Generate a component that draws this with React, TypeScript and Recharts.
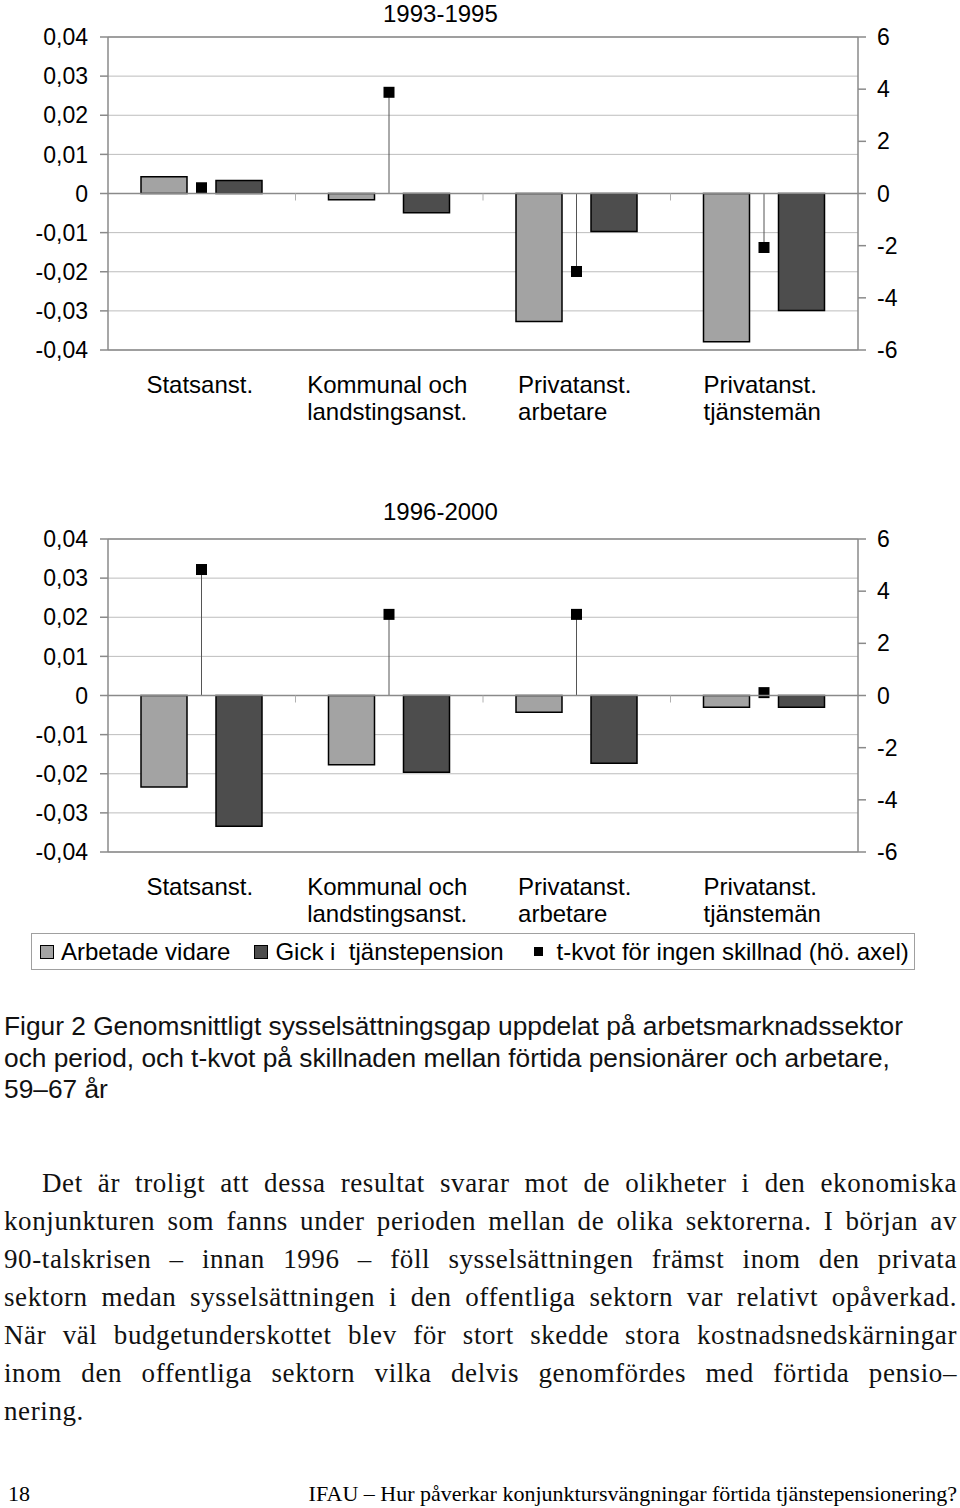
import React from "react";
import { ComposedChart, Bar, XAxis, YAxis, CartesianGrid, ReferenceLine } from "recharts";

// categories and values
const sectors = ["Statsanst.", "Kommunal och\nlandstingsanst.", "Privatanst.\narbetare", "Privatanst.\ntjänstemän"];
const worked9395 = [0.0043, -0.0016, -0.0327, -0.0379];
const retired9395 = [0.0033, -0.0049, -0.0097, -0.0299];
const tRatio9395 = [0.22, 3.88, -2.99, -2.07];
const worked9600 = [-0.0234, -0.0177, -0.0043, -0.003];
const retired9600 = [-0.0334, -0.0196, -0.0173, -0.003];
const tRatio9600 = [4.83, 3.11, 3.11, 0.11];
const leftTicks = [-0.04, -0.03, -0.02, -0.01, 0, 0.01, 0.02, 0.03, 0.04];
const rightTicks = [-6, -4, -2, 0, 2, 4, 6];
const legendNames = ["Arbetade vidare", "Gick i  tjänstepension", "t-kvot för ingen skillnad (hö. axel)"];

const captionLines = [
  "Figur 2 Genomsnittligt sysselsättningsgap uppdelat på arbetsmarknadssektor",
  "och period, och t-kvot på skillnaden mellan förtida pensionärer och arbetare,",
  "59–67 år",
];
const bodyLines = [
  "Det är troligt att dessa resultat svarar mot de olikheter i den ekonomiska",
  "konjunkturen som fanns under perioden mellan de olika sektorerna. I början av",
  "90-talskrisen – innan 1996 – föll sysselsättningen främst inom den privata",
  "sektorn medan sysselsättningen i den offentliga sektorn var relativt opåverkad.",
  "När väl budgetunderskottet blev för stort skedde stora kostnadsnedskärningar",
  "inom den offentliga sektorn vilka delvis genomfördes med förtida pensio–",
  "nering.",
];

const SANS = "'Liberation Sans', Arial, sans-serif";
const FS = 24;
const TICK_FS = 23;
const LIGHT = "#a3a3a3";
const DARK = "#4d4d4d";

let ctx: CanvasRenderingContext2D | null = null;
function textWidth(s: string) {
  if (!ctx) ctx = document.createElement("canvas").getContext("2d");
  if (!ctx) return s.length * FS * 0.5;
  ctx.font = `${FS}px 'Liberation Sans'`;
  return ctx.measureText(s).width;
}

const fmtLeft = (v: number) => (v === 0 ? "0" : v.toFixed(2).replace(".", ","));

const SectorTick = (props: any) => {
  const { x, y, payload } = props;
  const lines = String(payload.value).split("\n");
  const w = Math.max(...lines.map(textWidth));
  const x0 = x - w / 2 - 2;
  return (
    <text x={x0} y={y} fontSize={FS} fontFamily={SANS} fill="#000">
      {lines.map((l, i) => (
        <tspan key={i} x={x0} dy={i === 0 ? 43 : 27}>
          {l}
        </tspan>
      ))}
    </text>
  );
};

const TMarker = (props: any) => {
  const { x, y, width, height } = props;
  if (x == null || y == null) return null;
  const cx = x + width / 2;
  return (
    <g>
      <line x1={cx} x2={cx} y1={y} y2={y + height} stroke="#555" strokeWidth={1} />
      <rect x={cx - 5.5} y={y - 5.5} width={11} height={11} fill="#000" />
    </g>
  );
};

const ZeroAxis = (props: any) => {
  const { x1, x2, y1 } = props;
  const step = (x2 - x1) / sectors.length;
  return (
    <g>
      <line x1={x1} x2={x2} y1={y1} y2={y1} stroke="#8a8a8a" strokeWidth={1.5} />
      {sectors.slice(1).map((_, i) => (
        <line key={i} x1={x1 + step * (i + 1)} x2={x1 + step * (i + 1)} y1={y1} y2={y1 + 7} stroke="#b0b0b0" />
      ))}
    </g>
  );
};

function PeriodChart({ worked, retired, tRatio }: { worked: number[]; retired: number[]; tRatio: number[] }) {
  const data = sectors.map((s, i) => ({ sector: s, worked: worked[i], retired: retired[i], t: tRatio[i] }));
  return (
    <ComposedChart width={960} height={440} data={data} barGap={9} margin={{ top: 37, right: 0, bottom: 0, left: 0 }}>
      <CartesianGrid vertical={false} stroke="#bdbdbd" yAxisId="left" />
      <XAxis dataKey="sector" interval={0} height={90} axisLine={false} tickLine={false} tickSize={0} tickMargin={0} tick={<SectorTick />} />
      <YAxis
        yAxisId="left"
        width={108}
        domain={[-0.04, 0.04]}
        ticks={leftTicks}
        tickFormatter={fmtLeft}
        stroke="#8a8a8a"
        strokeWidth={1.5}
        tickSize={8}
        tickMargin={12}
        tick={{ fill: "#000", fontSize: TICK_FS, fontFamily: SANS }}
      />
      <YAxis
        yAxisId="right"
        orientation="right"
        width={102}
        domain={[-6, 6]}
        ticks={rightTicks}
        stroke="#8a8a8a"
        strokeWidth={1.5}
        tickSize={8}
        tickMargin={11}
        tick={{ fill: "#000", fontSize: TICK_FS, fontFamily: SANS }}
      />
      <ReferenceLine yAxisId="left" y={0.04} stroke="#8a8a8a" strokeWidth={1.5} />
      <ReferenceLine yAxisId="left" y={-0.04} stroke="#8a8a8a" strokeWidth={1.5} />
      <ReferenceLine yAxisId="left" y={0} shape={<ZeroAxis />} />
      <Bar yAxisId="left" dataKey="worked" barSize={46} fill={LIGHT} stroke="#000" strokeWidth={1.5} isAnimationActive={false} />
      <Bar yAxisId="right" dataKey="t" barSize={11} shape={<TMarker />} isAnimationActive={false} />
      <Bar yAxisId="left" dataKey="retired" barSize={46} fill={DARK} stroke="#000" strokeWidth={1.5} isAnimationActive={false} />
    </ComposedChart>
  );
}

const abs = (top: number, left = 0): React.CSSProperties => ({ position: "absolute", top, left });

function LegendSwatch({ color, size, gap }: { color: string; size: number; gap: number }) {
  return (
    <span
      style={{
        display: "inline-block",
        width: size,
        height: size,
        background: color,
        border: color === "#000" ? "none" : "1.5px solid #000",
        marginRight: gap,
        flex: "none",
      }}
    />
  );
}

const titleStyle: React.CSSProperties = { fontFamily: SANS, fontSize: FS, lineHeight: "28px", whiteSpace: "nowrap" };

export default function App() {
  return (
    <div style={{ position: "relative", width: 960, height: 1508, background: "#fff", overflow: "hidden" }}>
      <style>{"body{margin:0}"}</style>
      <div style={abs(0)}>
        <PeriodChart worked={worked9395} retired={retired9395} tRatio={tRatio9395} />
      </div>
      <div style={{ ...abs(0, 383), ...titleStyle }}>1993-1995</div>
      <div style={abs(502)}>
        <PeriodChart worked={worked9600} retired={retired9600} tRatio={tRatio9600} />
      </div>
      <div style={{ ...abs(498, 383), ...titleStyle }}>1996-2000</div>
      <div
        style={{
          ...abs(933, 31),
          width: 884,
          height: 37,
          border: "1px solid #a0a0a0",
          boxSizing: "border-box",
          fontFamily: SANS,
          fontSize: FS,
          display: "flex",
          alignItems: "center",
          paddingLeft: 8,
          whiteSpace: "pre",
        }}
      >
        <LegendSwatch color={LIGHT} size={12} gap={7} />
        <span style={{ marginRight: 24 }}>{legendNames[0]}</span>
        <LegendSwatch color={DARK} size={12} gap={7} />
        <span style={{ marginRight: 30 }}>{legendNames[1]}</span>
        <LegendSwatch color="#000" size={9} gap={14} />
        <span>{legendNames[2]}</span>
      </div>
      <div style={{ ...abs(1011, 4), fontFamily: SANS, fontSize: 26.3, lineHeight: "31.5px", color: "#111" }}>
        {captionLines.map((l, i) => (
          <div key={i} style={{ whiteSpace: "pre" }}>{l}</div>
        ))}
      </div>
      <div
        style={{
          ...abs(1164, 4),
          width: 953,
          fontFamily: "'Liberation Serif', 'Times New Roman', serif",
          fontSize: 27,
          letterSpacing: 0.6,
          lineHeight: "38px",
          color: "#111",
        }}
      >
        {bodyLines.map((l, i) => (
          <div
            key={i}
            style={{
              textAlign: "justify",
              textAlignLast: i < bodyLines.length - 1 ? "justify" : "left",
              paddingLeft: i === 0 ? 38 : 0,
              whiteSpace: "nowrap",
            }}
          >
            {l}
          </div>
        ))}
      </div>
      <div style={{ ...abs(1480, 8), fontFamily: "'Liberation Serif', serif", fontSize: 22, lineHeight: "28px" }}>18</div>
      <div style={{ position: "absolute", top: 1480, right: 3, fontFamily: "'Liberation Serif', serif", fontSize: 22, lineHeight: "28px", whiteSpace: "nowrap" }}>
        IFAU – Hur påverkar konjunktursvängningar förtida tjänstepensionering?
      </div>
    </div>
  );
}
